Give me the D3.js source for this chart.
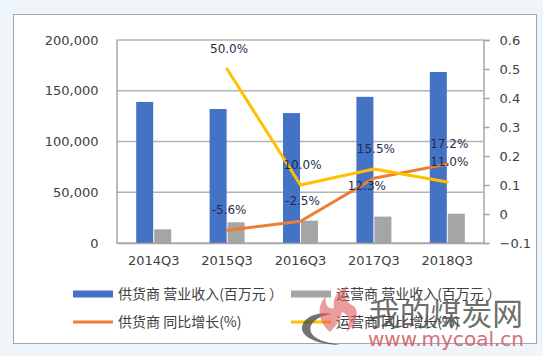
<!DOCTYPE html>
<html><head><meta charset="utf-8">
<script src="https://cdn.jsdelivr.net/npm/d3@7"></script>
<style>
html,body{margin:0;padding:0;background:#eef5fb;}
svg{display:block;}
</style></head>
<body>
<svg id="chart" width="543" height="356"></svg>
<script>
// ---- data ----
const categories = ["2014Q3","2015Q3","2016Q3","2017Q3","2018Q3"];
const supplierRevenue = [139000, 132000, 128000, 144000, 168500];
const operatorRevenue = [13500, 20400, 22000, 26000, 28900];
const supplierGrowth = [null, -0.056, -0.025, 0.123, 0.172];
const operatorGrowth = [null, 0.50, 0.10, 0.155, 0.11];
const supplierGrowthLabels = [null, "-5.6%", "-2.5%", "12.3%", "17.2%"];
const operatorGrowthLabels = [null, "50.0%", "10.0%", "15.5%", "11.0%"];
const leftTicks = [0, 50000, 100000, 150000, 200000];
const rightTicks = [-0.1, 0, 0.1, 0.2, 0.3, 0.4, 0.5, 0.6];
const seriesNames = ["供货商 营业收入(百万元 ）", "运营商 营业收入(百万元 ）", "供货商 同比增长(%)", "运营商 同比增长(%)"];
const colors = {blue:"#4472C4", gray:"#A5A5A5", orange:"#ED7D31", yellow:"#FFC000"};

const svg = d3.select("#chart");
const numFont = "DejaVu Sans, Verdana, sans-serif";
const cjkFont = "Noto Sans CJK SC, sans-serif";

// panel
svg.append("rect").attr("x",13.5).attr("y",14.5).attr("width",523).attr("height",329)
  .attr("fill","#fff").attr("stroke","#a6a6a6").attr("stroke-width",1);

const plot = {left:116.5, right:483.5, top:40, bottom:243};
const x = d3.scaleBand().domain(categories).range([plot.left+0.5, plot.right+0.5]).padding(0);
const yL = d3.scaleLinear().domain([0,200000]).range([plot.bottom, plot.top]);
const yR = d3.scaleLinear().domain([-0.1,0.6]).range([plot.bottom, plot.top]);
const cx = d => x(d) + x.bandwidth()/2;

// gridlines
svg.append("g").selectAll("line").data(leftTicks).join("line")
  .attr("x1",plot.left).attr("x2",plot.right)
  .attr("y1",d=>yL(d)).attr("y2",d=>yL(d))
  .attr("stroke","#b3b3b3").attr("stroke-width",1.5);

// left axis
const gL = svg.append("g").attr("transform",`translate(${plot.left},0)`)
  .call(d3.axisLeft(yL).tickValues(leftTicks).tickSize(0).tickPadding(18).tickFormat(d3.format(",")));
gL.select(".domain").attr("stroke","#a6a6a6").attr("stroke-width",1.5);
gL.selectAll("text").attr("font-family",numFont).attr("font-size",13).attr("fill","#404040");

// right axis
const gR = svg.append("g").attr("transform",`translate(${plot.right},0)`)
  .call(d3.axisRight(yR).tickValues(rightTicks).tickSize(6).tickPadding(10).tickFormat(d=>d3.format("")(+d.toFixed(1))));
gR.select(".domain").attr("stroke","#a6a6a6").attr("stroke-width",1.5);
gR.selectAll(".tick line").attr("stroke","#a6a6a6").attr("stroke-width",1.5);
gR.selectAll("text").attr("font-family",numFont).attr("font-size",13).attr("fill","#404040");

// bars
const barW = 17;
svg.append("g").selectAll("rect").data(categories).join("rect")
  .attr("x",d=>cx(d)-barW-0.5).attr("width",barW)
  .attr("y",(d,i)=>yL(supplierRevenue[i])).attr("height",(d,i)=>yL(0)-yL(supplierRevenue[i]))
  .attr("fill",colors.blue);
svg.append("g").selectAll("rect").data(categories).join("rect")
  .attr("x",d=>cx(d)+0.5).attr("width",barW)
  .attr("y",(d,i)=>yL(operatorRevenue[i])).attr("height",(d,i)=>yL(0)-yL(operatorRevenue[i]))
  .attr("fill",colors.gray);

// bottom axis
const gB = svg.append("g").attr("transform",`translate(0,${plot.bottom})`)
  .call(d3.axisBottom(x).tickSize(0).tickPadding(13));
gB.select(".domain").attr("stroke","#a6a6a6").attr("stroke-width",1.5);
gB.selectAll("text").attr("font-family",numFont).attr("font-size",13).attr("fill","#404040");

// lines
const line = d3.line().defined(d=>d.v!==null).x(d=>cx(d.c)).y(d=>yR(d.v));
function drawLine(vals, color){
  svg.append("path").datum(categories.map((c,i)=>({c, v:vals[i]})))
    .attr("d",line).attr("fill","none").attr("stroke",color).attr("stroke-width",3)
    .attr("stroke-linejoin","round").attr("stroke-linecap","round");
}
drawLine(supplierGrowth, colors.orange);
drawLine(operatorGrowth, colors.yellow);

// data labels
const labelPlacement = {supplier:["above","above","above","below","above"], operator:["above","above","above","above","above"]};
function drawLabels(vals, labels, placement){
  svg.append("g").selectAll("text").data(categories.filter((c,i)=>vals[i]!==null)).join("text")
    .attr("x",d=>{const i=categories.indexOf(d); return cx(d)+(placement[i]==="below"?-7:2);})
    .attr("y",d=>{const i=categories.indexOf(d); return yR(vals[i]) + (placement[i]==="below"?7:-20);})
    .attr("dy","0.35em").attr("text-anchor","middle")
    .attr("font-family",numFont).attr("font-size",12).attr("fill","#1f2d4d")
    .text(d=>labels[categories.indexOf(d)]);
}
drawLabels(supplierGrowth, supplierGrowthLabels, labelPlacement.supplier);
drawLabels(operatorGrowth, operatorGrowthLabels, labelPlacement.operator);

// legend
const legendItems = [
  {name:seriesNames[0], color:colors.blue, type:"rect", x:73, y:294},
  {name:seriesNames[1], color:colors.gray, type:"rect", x:291, y:294},
  {name:seriesNames[2], color:colors.orange, type:"line", x:73, y:322},
  {name:seriesNames[3], color:colors.yellow, type:"line", x:291, y:322}
];
const lg = svg.append("g");
legendItems.forEach(it=>{
  if(it.type==="rect"){
    lg.append("rect").attr("x",it.x).attr("y",it.y-3.5).attr("width",40).attr("height",7).attr("fill",it.color);
  } else {
    lg.append("line").attr("x1",it.x).attr("x2",it.x+40).attr("y1",it.y).attr("y2",it.y)
      .attr("stroke",it.color).attr("stroke-width",3);
  }
  lg.append("text").attr("x",it.x+45).attr("y",it.y).attr("dy","0.35em")
    .attr("font-family",cjkFont).attr("font-size",14).attr("fill","#404040").text(it.name);
});

// watermark
const wm = svg.append("g");
wm.append("path")
  .attr("d","M340,345 C312,344 296,334 304,322 C310,314 322,312 332,314 C318,316 306,324 312,334 C318,342 332,343 340,345 Z")
  .attr("fill","#444").attr("opacity",0.75);
wm.append("path")
  .attr("d","M330,332 C318,322 316,306 326,296 C324,306 330,310 334,308 C332,298 338,290 348,286 C342,296 348,304 354,306 C360,312 356,326 346,332 C352,322 348,314 342,312 C340,320 336,326 330,332 Z")
  .attr("fill","#e05a5a").attr("opacity",0.6);
wm.append("text").attr("x",369).attr("y",314).attr("dy","0.35em")
  .attr("font-family",cjkFont).attr("font-size",31).attr("fill","#555").attr("opacity",0.85)
  .attr("textLength",154).attr("lengthAdjust","spacingAndGlyphs").text("我的煤炭网");
wm.append("text").attr("x",368).attr("y",339).attr("dy","0.35em")
  .attr("font-family",numFont).attr("font-size",19).attr("fill","#d4606c").attr("opacity",0.9)
  .attr("textLength",156).attr("lengthAdjust","spacingAndGlyphs").text("www.mycoal.cn");
</script>
</body></html>
